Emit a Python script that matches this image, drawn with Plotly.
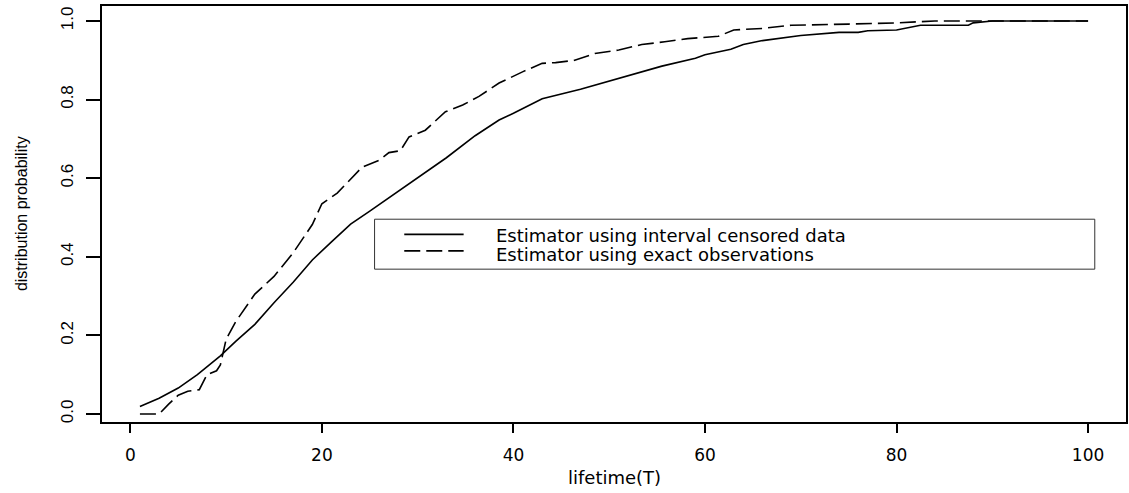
import plotly.graph_objects as go

# Estimator using interval censored data (solid)
interval_x = [1, 3, 5, 7, 9.4, 11, 13, 15, 17, 19, 21, 23, 25, 27, 29, 31, 33, 36, 38.5, 40,
              43, 47, 50, 53, 55.5, 59, 60, 62.7, 64, 66, 70, 74, 76, 77, 80, 82.5, 87.5, 88, 90, 100]
interval_y = [0.019, 0.04, 0.066, 0.10, 0.148, 0.185, 0.228, 0.283, 0.335, 0.392, 0.438, 0.483,
              0.516, 0.550, 0.585, 0.618, 0.652, 0.708, 0.748, 0.765, 0.802, 0.826, 0.847, 0.868,
              0.885, 0.905, 0.914, 0.928, 0.940, 0.950, 0.963, 0.971, 0.971, 0.975, 0.977, 0.989,
              0.989, 0.995, 1.0, 1.0]

# Estimator using exact observations (dashed)
exact_x = [1, 3, 4, 5, 6, 7.2, 8, 9, 9.4, 10, 11, 13, 15, 17, 19, 20, 21.6, 24.2, 26, 27, 28.2,
           29.1, 30.8, 32.9, 34.7, 36.4, 38.5, 41, 43, 44.4, 46.4, 48.5, 51, 53.4, 55.8, 58.2,
           61.4, 63, 66, 69, 75, 80, 84, 100]
exact_y = [0, 0, 0.025, 0.048, 0.058, 0.062, 0.10, 0.11, 0.125, 0.19, 0.235, 0.305, 0.35, 0.41,
           0.482, 0.535, 0.562, 0.628, 0.646, 0.665, 0.67, 0.705, 0.722, 0.769, 0.786, 0.808,
           0.842, 0.871, 0.892, 0.894, 0.90, 0.917, 0.926, 0.94, 0.947, 0.955, 0.961, 0.977,
           0.981, 0.989, 0.992, 0.995, 1.0, 1.0]

legend_labels = ["Estimator using interval censored data", "Estimator using exact observations"]
x_ticks = [0, 20, 40, 60, 80, 100]
y_ticks = [0.0, 0.2, 0.4, 0.6, 0.8, 1.0]

fig = go.Figure()
fig.add_trace(go.Scatter(x=interval_x, y=interval_y, mode="lines",
                         line=dict(color="black", width=1.6), showlegend=False, hoverinfo="skip"))
fig.add_trace(go.Scatter(x=exact_x, y=exact_y, mode="lines",
                         line=dict(color="black", width=1.6, dash="16px,6px"), showlegend=False,
                         hoverinfo="skip"))

# legend box drawn in data coordinates
fig.add_shape(type="rect", x0=25.5, x1=100.7, y0=0.3685, y1=0.4956,
              line=dict(color="#333333", width=1), fillcolor="white", layer="above")
fig.add_shape(type="line", x0=28.6, x1=34.8, y0=0.457, y1=0.457,
              line=dict(color="black", width=1.6))
fig.add_shape(type="line", x0=28.6, x1=34.8, y0=0.415, y1=0.415,
              line=dict(color="black", width=1.6, dash="16px,6px"))
for lab, yy in zip(legend_labels, [0.453, 0.407]):
    fig.add_annotation(x=37.95, y=yy, text=lab, showarrow=False, xanchor="left", yanchor="middle",
                       font=dict(family="DejaVu Sans", size=18, color="black"))

fig.add_annotation(xref="paper", yref="paper", x=0.5, y=-0.134, text="lifetime(T)",
                   showarrow=False, xanchor="center", yanchor="middle",
                   font=dict(family="DejaVu Sans", size=18, color="black"))
fig.add_annotation(xref="paper", yref="paper", x=-0.079, y=0.5, text="distribution probability",
                   showarrow=False, xanchor="center", yanchor="middle", textangle=-90,
                   font=dict(family="Liberation Sans", size=16, color="black"))

fig.update_layout(
    width=1129, height=493,
    margin=dict(l=102, r=1, t=6, b=71),
    plot_bgcolor="white", paper_bgcolor="white",
    hovermode=False,
    xaxis=dict(range=[-2.96, 103.96], tickvals=x_ticks, ticktext=[str(v) for v in x_ticks],
               showgrid=False, zeroline=False, showline=True, mirror=True, linecolor="black",
               linewidth=1.5, ticks="outside", ticklen=9, tickwidth=1.5, tickcolor="black",
               ticklabelstandoff=8,
               tickfont=dict(family="DejaVu Sans", size=17, color="black")),
    yaxis=dict(range=[-0.0203, 1.038], tickvals=y_ticks, ticktext=["%.1f" % v for v in y_ticks],
               showgrid=False, zeroline=False, showline=True, mirror=True, linecolor="black",
               linewidth=1.5, ticks="outside", ticklen=14, tickwidth=1.5, tickcolor="black",
               tickangle=-90, ticklabelstandoff=6,
               tickfont=dict(family="Liberation Sans", size=17, color="black")),
)

fig.write_html("out.html", config={"displayModeBar": False},
               post_script="document.body.style.margin='0px';")
